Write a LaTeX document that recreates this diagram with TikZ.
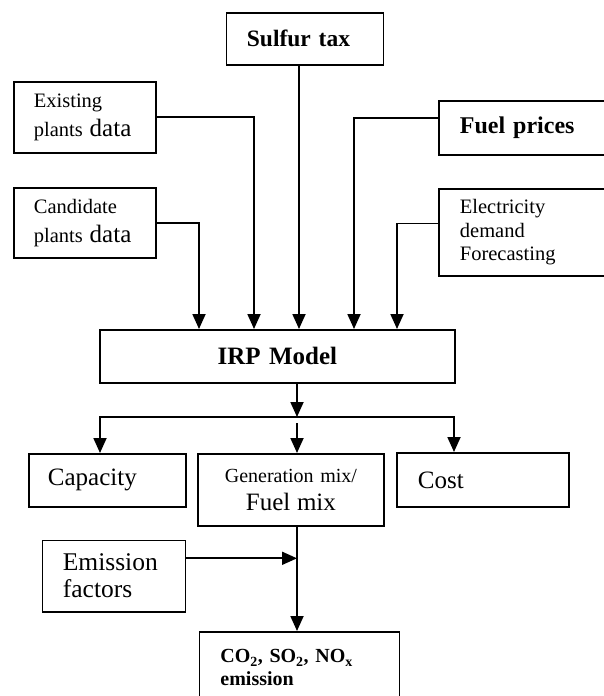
\documentclass[tikz,border=0pt]{standalone}
\usepackage{fontspec}
\setmainfont{Liberation Serif}
\usetikzlibrary{arrows.meta,calc}

\newcommand{\bigword}[1]{{\fontsize{25}{28}\selectfont #1}}

\begin{document}
\begin{tikzpicture}[x=1pt, y=-1pt, >={Triangle[length=15pt,width=13pt]},
    box/.style={draw, line width=1.8pt, anchor=north west, inner ysep=0pt, align=left},
    wire/.style={line width=1.8pt}]
    \useasboundingbox (0,0) rectangle (604,696);

    % Nodes {inputs, model, outputs}
    \node [box, inner xsep=20.5pt, text width=116pt, minimum height=52.3pt,
           font=\fontsize{23.5}{28}\selectfont\bfseries]                    (sulfur) at (225.5,11.7) {Sulfur tax};
    \node [box, inner xsep=19.7pt, text width=102.6pt, minimum height=71.3pt,
           font=\fontsize{20.5}{29}\selectfont]                             (exist)  at (13.3,80.7)  {Existing\\plants \bigword{data}};
    \node [box, inner xsep=19.7pt, text width=102.6pt, minimum height=70pt,
           font=\fontsize{20.5}{29}\selectfont]                             (cand)   at (13.3,186.7) {Candidate\\plants \bigword{data}};
    \node [box, inner xsep=21pt, text width=158pt, minimum height=54pt,
           font=\fontsize{24}{28}\selectfont\bfseries]                      (fuel)   at (438,100)    {Fuel prices};
    \node [box, inner xsep=21pt, text width=158pt, minimum height=87pt,
           font=\fontsize{20.5}{23.5}\selectfont]                           (elec)   at (438,188)    {Electricity\\demand\\Forecasting};
    \node [box, align=center, inner xsep=0pt, text width=355pt, minimum height=53pt,
           font=\fontsize{25}{28}\selectfont\bfseries]                      (irp)    at (99,329)     {IRP Model};
    \node [box, inner xsep=19pt, text width=119pt, minimum height=53pt,
           font=\fontsize{25}{28}\selectfont]                               (cap)    at (28,453)     {Capacity};
    \node [box, align=center, inner xsep=0pt, text width=186pt, minimum height=72pt,
           font=\fontsize{20}{28}\selectfont]                               (gen)    at (197,453)    {Generation mix/\\\bigword{Fuel mix}};
    \node [box, inner xsep=21pt, text width=130pt, minimum height=54pt,
           font=\fontsize{25}{28}\selectfont]                               (cost)   at (396,452)    {Cost};
    \node [box, inner xsep=20.5pt, text width=102pt, minimum height=71.5pt,
           font=\fontsize{25.5}{27}\selectfont]                             (emf)    at (41.5,539.5) {Emission\\factors};
    \node [box, inner xsep=21pt, text width=158pt, minimum height=72pt,
           font=\fontsize{20}{23}\selectfont\bfseries]                      (co2)    at (198.5,631)
        {CO\textsubscript{2}, SO\textsubscript{2}, NO\textsubscript{x}\\emission};

    % Junctions
    \coordinate (inCand)  at (199,329);
    \coordinate (inExist) at (254,329);
    \coordinate (inSulf)  at (299,329);
    \coordinate (inFuel)  at (354,329);
    \coordinate (inElec)  at (397,329);
    \coordinate (split)   at (297,417);
    \coordinate (toCap)   at (100,453);
    \coordinate (toCost)  at (454,452);
    \coordinate (merge)   at (297,558.3);

    % Paths
    \draw [wire, ->] (cand.east) -| (inCand);
    \draw [wire, ->] (exist.east) -| (inExist);
    \draw [wire, ->] (inSulf |- sulfur.south) -- (inSulf);
    \draw [wire, ->] ($(fuel.north west)+(0,18)$) -| (inFuel);
    \draw [wire, ->] ($(elec.north west)+(0,35.5)$) -| (inElec);
    \draw [wire, ->] (split |- irp.south) -- (split);
    \draw [wire, ->] (split) -| (toCap);
    \draw [wire, ->] (split) -| (toCost);
    \draw [wire, ->] ($(split)+(0,6)$) -- (split |- gen.north);
    \draw [wire] (split |- gen.south) -- (merge);
    \draw [wire, ->] (merge) -- (split |- co2.north);
    \draw [wire, ->] ($(emf.north east)+(0,18.8)$) -- (merge);

\end{tikzpicture}
\end{document}
